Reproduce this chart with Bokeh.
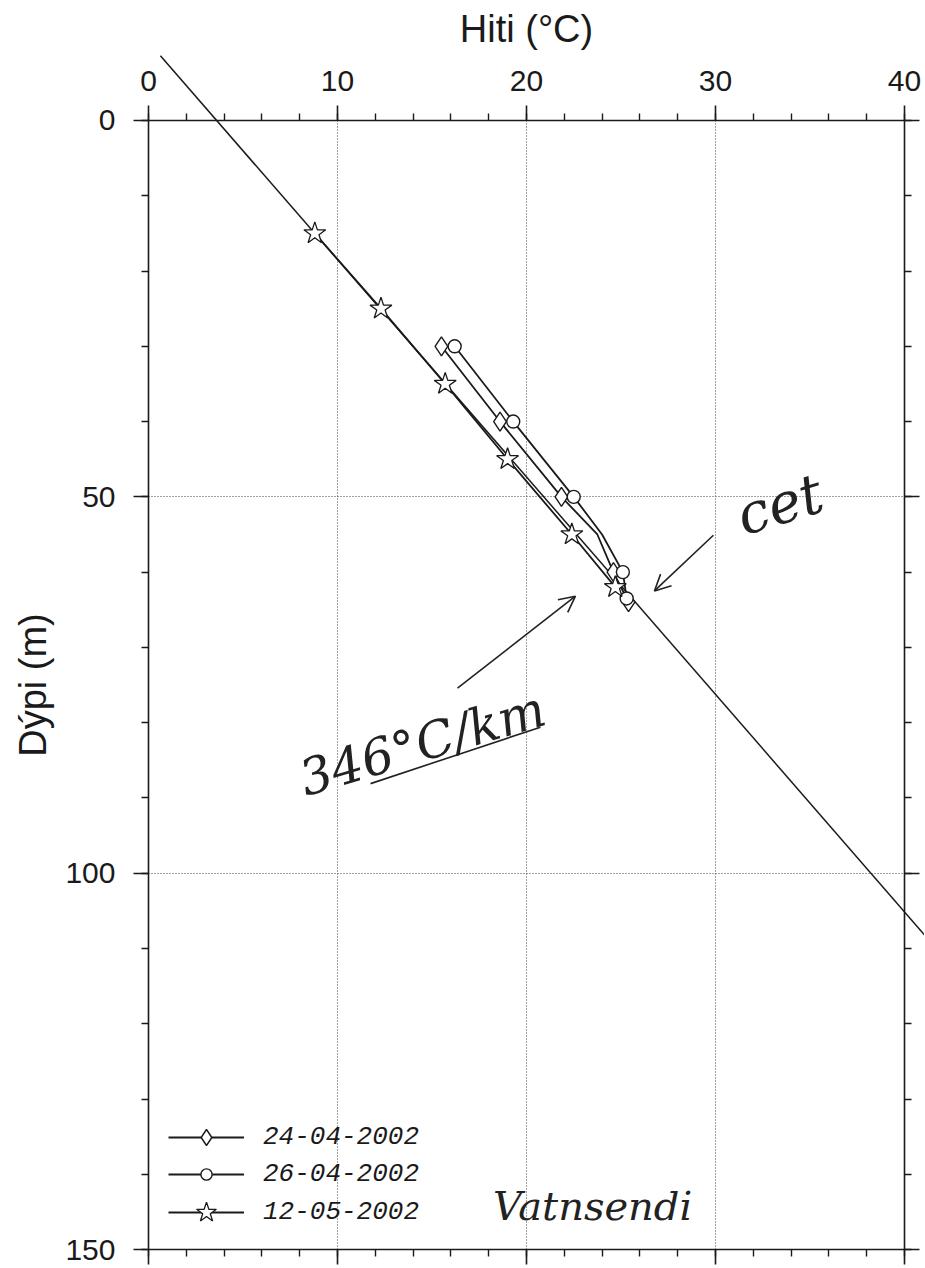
from bokeh.plotting import figure
from bokeh.models import (Range1d, LinearAxis, SingleIntervalTicker, Label, Arrow, OpenHead,
                          ColumnDataSource, IndexFilter, CDSView, Legend, LegendItem, Grid)
from bokeh.embed import file_html
from bokeh.resources import INLINE
import math

# ---------------- data ----------------
d1_label = "24-04-2002"
d1_depth = [30, 40, 50, 55, 60, 64]
d1_temp = [15.5, 18.6, 21.85, 23.75, 24.6, 25.4]
d1_marked = [0, 1, 2, 4, 5]

d2_label = "26-04-2002"
d2_depth = [30, 40, 50, 55, 60, 63.5]
d2_temp = [16.2, 19.3, 22.5, 24.0, 25.1, 25.3]
d2_marked = [0, 1, 2, 4, 5]

d3_label = "12-05-2002"
d3_depth = [15, 25, 35, 45, 55, 62]
d3_temp = [8.8, 12.3, 15.7, 19.0, 22.4, 24.7]

fit_depth = [-8.6, 108.6]
fit_temp = [0.63, 41.2]

x_min, x_max, x_step = 0, 40, 10
y_min, y_max, y_step = 0, 150, 50
x_title = "Hiti (°C)"
y_title = "Dýpi (m)"

FONT = "Liberation Sans"
INK = "#1a1a1a"
W, H = 924, 1266

# the frame covers the whole canvas, axes are pinned at data positions
p = figure(width=W, height=H, output_backend="svg", toolbar_location=None,
           x_range=Range1d(-7.831, 41.06), y_range=Range1d(152.25, -15.94),
           min_border=0, min_border_left=0, min_border_right=0,
           min_border_top=0, min_border_bottom=0)
p.outline_line_color = None
p.background_fill_color = "white"


def ticker(step):
    return SingleIntervalTicker(interval=step, num_minor_ticks=5)


def style_axis(ax, tk, bounds, loc, show_labels, standoff):
    ax.ticker = tk
    ax.bounds = bounds
    ax.fixed_location = loc
    ax.axis_line_color = INK
    ax.axis_line_width = 1.6
    ax.major_tick_line_color = INK
    ax.minor_tick_line_color = INK
    ax.major_tick_line_width = 1.6
    ax.minor_tick_line_width = 1.4
    ax.major_tick_in = 0
    ax.major_tick_out = 15
    ax.minor_tick_in = 0
    ax.minor_tick_out = 7
    ax.major_label_text_font = FONT
    ax.major_label_text_font_size = "30px"
    ax.major_label_text_color = INK if show_labels else None
    ax.major_label_standoff = standoff
    ax.axis_label = None


style_axis(p.xaxis[0], ticker(x_step), (x_min, x_max), y_max, False, 5)
style_axis(p.yaxis[0], ticker(y_step), (y_min, y_max), x_min, True, 18)

top = LinearAxis()
style_axis(top, ticker(x_step), (x_min, x_max), y_min, True, 14)
p.add_layout(top, "above")
right = LinearAxis()
style_axis(right, ticker(y_step), (y_min, y_max), x_max, False, 5)
p.add_layout(right, "right")

# grids
has_cb = "cross_bounds" in Grid.properties()
for g, tk, cb in ((p.xgrid[0], ticker(x_step), (y_min, y_max)), (p.ygrid[0], ticker(y_step), (x_min, x_max))):
    g.ticker = tk
    g.grid_line_color = "#444444"
    g.grid_line_dash = "1 2"
    g.grid_line_width = 1
    g.bounds = (x_min + 1, x_max - 1) if g.dimension == 0 else (y_min + 1, y_max - 1)
    if has_cb:
        g.cross_bounds = cb
    else:
        g.visible = False
if not has_cb:
    gx = list(range(x_min, x_max + 1, x_step))[1:-1]
    gy = list(range(y_min, y_max + 1, y_step))[1:-1]
    p.segment(x0=gx, x1=gx, y0=[y_min] * len(gx), y1=[y_max] * len(gx), line_color="#444444", line_dash="1 2")
    p.segment(x0=[x_min] * len(gy), x1=[x_max] * len(gy), y0=gy, y1=gy, line_color="#444444", line_dash="1 2")

# gradient line
p.line(fit_temp, fit_depth, line_color=INK, line_width=1.5)

s1 = ColumnDataSource(dict(t=d1_temp, z=d1_depth))
s2 = ColumnDataSource(dict(t=d2_temp, z=d2_depth))
s3 = ColumnDataSource(dict(t=d3_temp, z=d3_depth))

l1 = p.line("t", "z", source=s1, line_color=INK, line_width=1.8)
m1 = p.scatter("t", "z", source=s1, view=CDSView(filter=IndexFilter(d1_marked)), marker="diamond",
               size=19, fill_color="white", line_color=INK, line_width=1.4)
l2 = p.line("t", "z", source=s2, line_color=INK, line_width=1.8)
m2 = p.scatter("t", "z", source=s2, view=CDSView(filter=IndexFilter(d2_marked)), marker="circle",
               size=13, fill_color="white", line_color=INK, line_width=1.4)
l3 = p.line("t", "z", source=s3, line_color=INK, line_width=1.8)
m3 = p.scatter("t", "z", source=s3, marker="star", size=23, fill_color="white", line_color=INK, line_width=1.3)

# one legend per entry so each legend marker can have its own size
for lab, rs, gh, vy in ((d1_label, [l1, m1], 40, 109),
                        (d2_label, [l2, m2], 28, 77),
                        (d3_label, [l3, m3], 52, 28)):
    p.add_layout(Legend(items=[LegendItem(label=lab, renderers=rs)],
                        location=(168, vy), orientation="vertical", border_line_color=None,
                        background_fill_alpha=0, glyph_width=76, glyph_height=gh, label_height=gh,
                        spacing=0, padding=0, margin=0, label_standoff=19,
                        label_text_font="Liberation Mono", label_text_font_style="italic",
                        label_text_font_size="26px", label_text_color=INK))

# axis titles
p.add_layout(Label(x=20, y=-12.2, text=x_title, text_align="center", text_baseline="alphabetic",
                   text_font=FONT, text_font_size="38px", text_color=INK))
p.add_layout(Label(x=-6.13, y=75, text=y_title, angle=math.pi / 2, text_align="center",
                   text_baseline="alphabetic", text_font=FONT, text_font_size="38px", text_color=INK))

# handwritten notes
PEN = "#222222"
HAND = dict(text_font="DejaVu Serif", text_font_style="italic", text_color=PEN)
p.add_layout(Label(x=14.5, y=82.8, text="346°C/km", angle=0.29, text_align="center",
                   text_baseline="middle", text_font_size="50px", **HAND))
p.add_layout(Label(x=33.4, y=51.0, text="cet", angle=0.3, text_align="center",
                   text_baseline="middle", text_font_size="56px", **HAND))
p.add_layout(Label(x=23.5, y=144.2, text="Vatnsendi", angle=0.0, text_align="center",
                   text_baseline="middle", text_font_size="40px", **HAND))
p.add_layout(Arrow(end=OpenHead(size=16, line_width=1.6, line_color=PEN),
                   x_start=16.35, y_start=75.4, x_end=22.59, y_end=63.2,
                   line_width=1.6, line_color=PEN))
p.add_layout(Arrow(end=OpenHead(size=16, line_width=1.6, line_color=PEN),
                   x_start=29.89, y_start=55.1, x_end=26.77, y_end=62.5,
                   line_width=1.6, line_color=PEN))
p.add_layout(Arrow(end=None, x_start=11.75, y_start=88.1, x_end=20.74, y_end=80.6,
                   line_width=1.6, line_color=PEN))

open("out.html", "w").write(file_html(p, INLINE))
